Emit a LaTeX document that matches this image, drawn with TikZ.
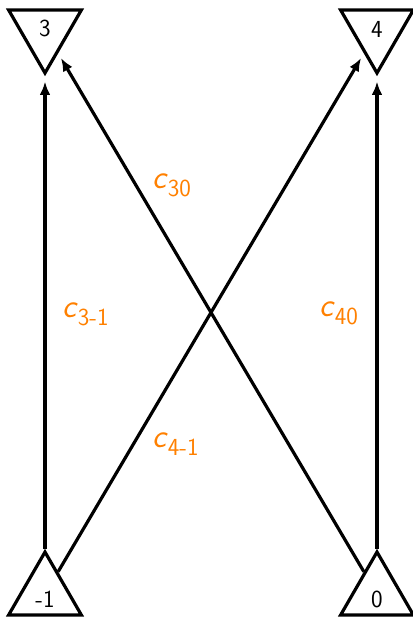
\documentclass[tikz,border=0pt]{standalone}
\usetikzlibrary{shapes.geometric,arrows.meta}
\begin{document}
\begin{tikzpicture}[x=0.75pt,y=-0.75pt,
  tri/.style={draw, line width=2.4pt, regular polygon, regular polygon sides=3,
    minimum size=63pt, inner sep=0pt},
  tridown/.style={tri, shape border rotate=180},
  txt/.style={font=\sffamily\fontsize{18.4}{20}\selectfont, inner sep=0pt},
  arr/.style={line width=2.4pt, -{Latex[length=10pt,width=8pt]}, shorten >=4pt},
  lbl/.style={text=orange, anchor=base west, inner sep=0pt,
    font=\sffamily\fontsize{25}{28}\selectfont}
]
\useasboundingbox (0,0) rectangle (412,619);
\newcommand{\subtxt}[1]{\raisebox{-6pt}{\fontsize{18.4}{20}\selectfont #1}}
\node[tridown] (n3) at (45,31) {};
\node[tridown] (n4) at (377,31) {};
\node[tri] (nm1) at (45,594) {};
\node[tri] (n0) at (377,594) {};
\node[txt] (t3) at ([yshift=2pt]n3.center) {3};
\node[txt] (t4) at ([yshift=1pt]n4.center) {4};
\node[txt] (tm1) at ([yshift=-4pt]nm1.center) {-1};
\node[txt] (t0) at ([yshift=-4pt]n0.center) {0};
\draw[arr] (nm1) -- (n3);
\draw[arr] (nm1) -- (n4);
\draw[arr] (n0) -- (n4);
\draw[arr] (n0) -- (n3);
\node[lbl] (c30) at (152,188) {\textsl{c}\subtxt{30}};
\node[lbl] (c31) at (62,317) {\textsl{c}\subtxt{3-1}};
\node[lbl] (c40) at (319,316) {\textsl{c}\subtxt{40}};
\node[lbl] (c41) at (152,447) {\textsl{c}\subtxt{4-1}};
\end{tikzpicture}
\end{document}
